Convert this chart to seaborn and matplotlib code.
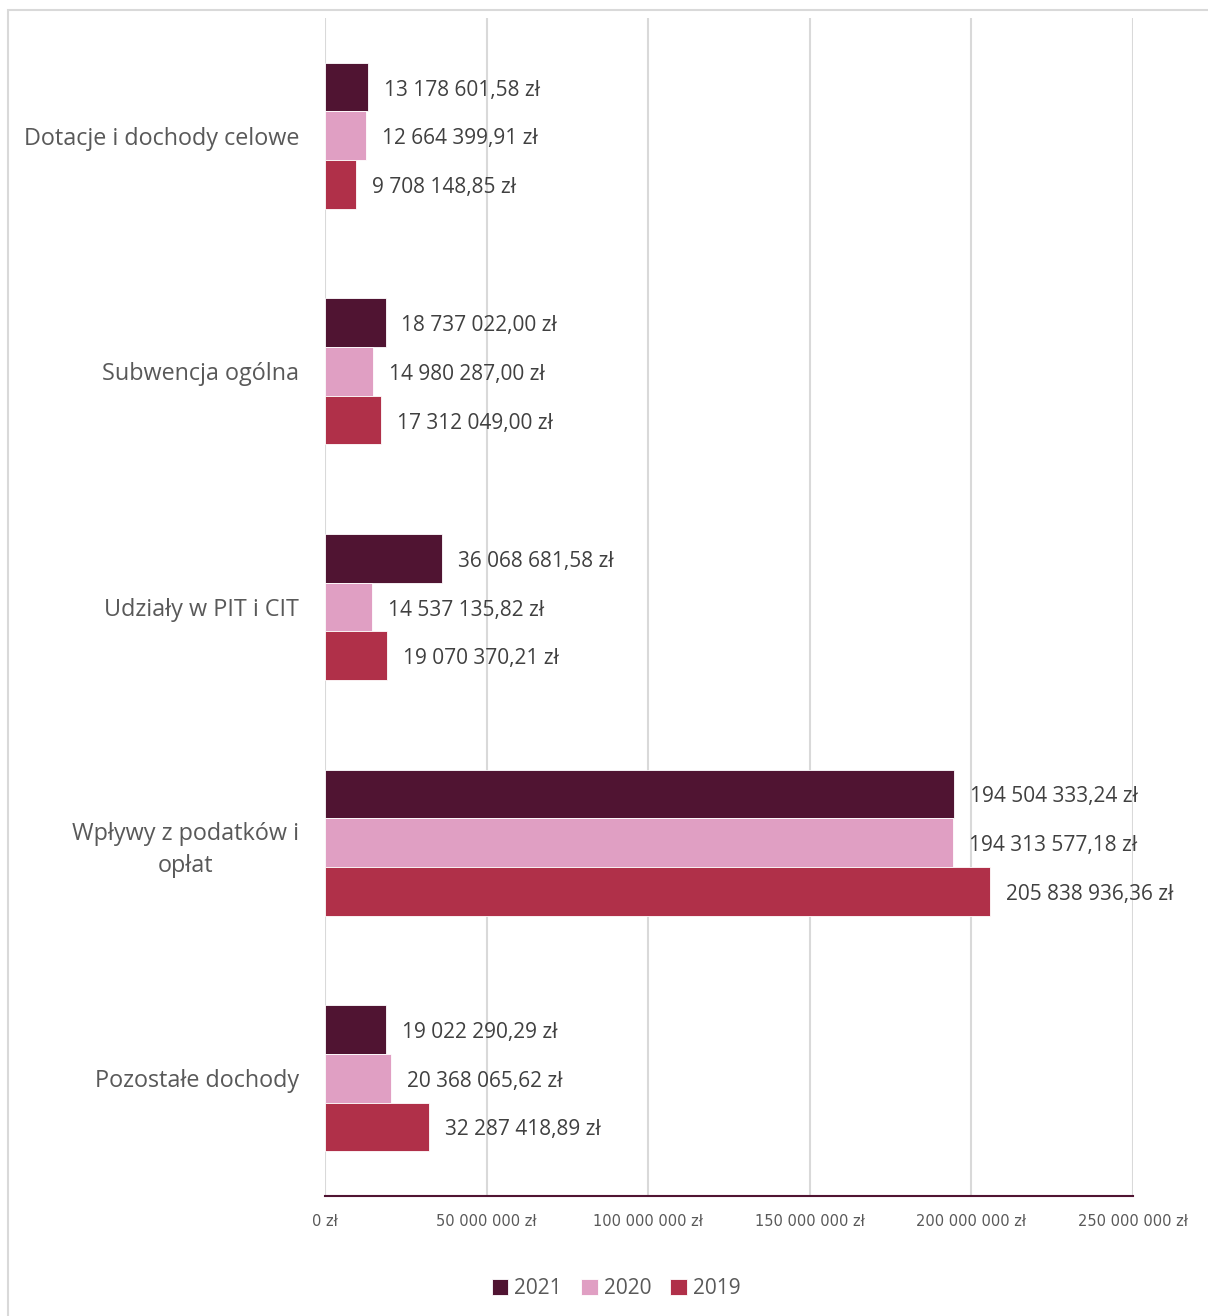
import matplotlib
matplotlib.use("Agg")
import matplotlib.pyplot as plt
from matplotlib.patches import Rectangle
import seaborn as sns
import pandas as pd

# data
categories = ["Dotacje i dochody celowe", "Subwencja ogólna", "Udziały w PIT i CIT",
              "Wpływy z podatków i\nopłat", "Pozostałe dochody"]
years = ["2021", "2020", "2019"]
v2021 = [13178601.58, 18737022.00, 36068681.58, 194504333.24, 19022290.29]
v2020 = [12664399.91, 14980287.00, 14537135.82, 194313577.18, 20368065.62]
v2019 = [9708148.85, 17312049.00, 19070370.21, 205838936.36, 32287418.89]
ticks = [0, 50e6, 100e6, 150e6, 200e6, 250e6]
colors = ["#501432", "#E09FC3", "#B03049"]

rows = []
for y, vals in zip(years, [v2021, v2020, v2019]):
    for c, v in zip(categories, vals):
        rows.append({"kategoria": c, "rok": y, "kwota": v})
df = pd.DataFrame(rows)

def pln(v, dec=2):
    s = f"{v:,.{dec}f}".replace(",", " ").replace(".", ",")
    return s + " zł"

sns.set_style("white")
plt.rcParams['font.family'] = ['Open Sans', 'DejaVu Sans']

fig = plt.figure(figsize=(12.08, 13.16), dpi=100)
ax = fig.add_axes([0.269, 0.0912, 0.669, 0.8951])

sns.barplot(data=df, y="kategoria", x="kwota", hue="rok", orient="h",
            order=categories, hue_order=years, palette=colors,
            width=0.62, saturation=1, ax=ax, legend=True, linewidth=0.6)

# value labels
for cont in ax.containers:
    anns = ax.bar_label(cont, labels=[pln(b.get_width()) for b in cont],
                        padding=11.5, fontsize=15, color="#404040")
    for a in anns:
        a.xyann = (11.5, -2.2)

ax.set_xlim(0, 250e6)
ax.set_ylim(4.5, -0.5)
ax.set_xticks(ticks)
ax.set_xticklabels([pln(t, 0) for t in ticks], fontsize=10.5, color="#595959",
                   family=['Liberation Sans Narrow', 'DejaVu Sans'])
ax.tick_params(axis='x', length=0, pad=13)
ax.tick_params(axis='y', length=0, pad=18.5)
for lab in ax.get_yticklabels():
    lab.set_fontsize(16.8)
    lab.set_color("#595959")
    lab.set_multialignment("center")
    lab.set_linespacing(1.45)
ax.set_xlabel("")
ax.set_ylabel("")
ax.grid(axis='x', color="#d9d9d9", linewidth=1.5)
ax.set_axisbelow(True)
for s in ["top", "right", "left"]:
    ax.spines[s].set_visible(False)
ax.spines["bottom"].set_color("#501432")
ax.spines["bottom"].set_linewidth(1.5)

ax.legend_.remove()
handles, labels = ax.get_legend_handles_labels()
fig.legend(handles[:3], labels[:3], loc="center", bbox_to_anchor=(0.51, 0.021),
           ncol=3, frameon=False, fontsize=15, handlelength=0.8, handleheight=0.8,
           handletextpad=0.3, columnspacing=0.9, labelcolor="#595959")

# outer frame of the chart area
fig.patches.append(Rectangle((8 / 1208, -0.01), 1.02, 1 - 10 / 1316 + 0.01,
                             transform=fig.transFigure, fill=False,
                             edgecolor="#d9d9d9", linewidth=1.5))

fig.savefig("out.png", dpi=100)
